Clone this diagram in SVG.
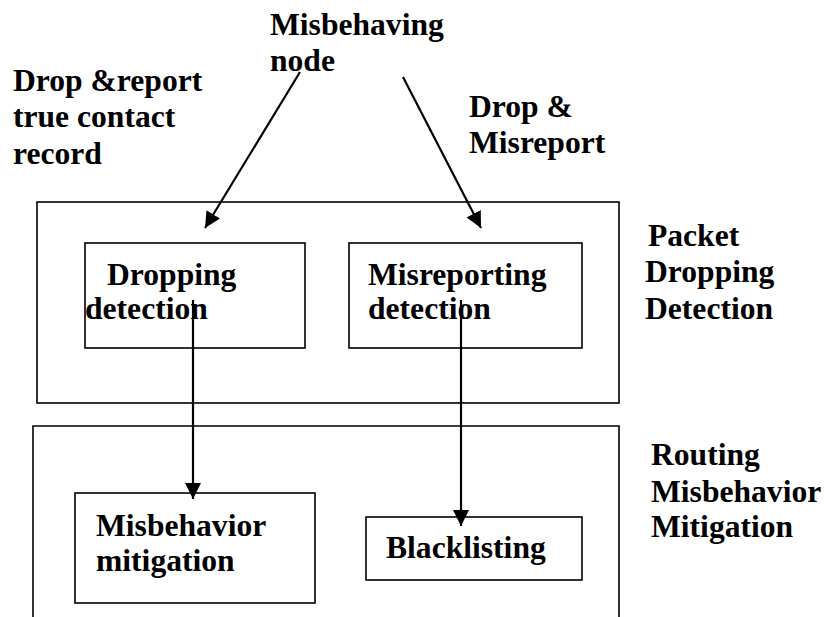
<svg xmlns="http://www.w3.org/2000/svg" width="825" height="617" viewBox="0 0 825 617">
<defs>
<style>
.b{fill:none;stroke:#000;stroke-width:1.6}
.c{fill:none;stroke:#000;stroke-width:2.2}
</style>
<marker id="ahb" viewBox="0 0 10 10" refX="10" refY="5" markerWidth="16" markerHeight="16" markerUnits="userSpaceOnUse" orient="auto">
<path d="M0,0 L10,5 L0,10 z" fill="#000"/>
</marker>
</defs>
<rect width="825" height="617" fill="#fff"/>
<g font-family="Liberation Serif, Times New Roman, serif" font-weight="bold" font-size="31.6" fill="#000">
<g id="labels">
<text x="270" y="35">Misbehaving</text>
<text x="270" y="71">node</text>
<text x="13" y="91">Drop &amp;report</text>
<text x="13" y="127">true contact</text>
<text x="13" y="164">record</text>
<text x="469" y="117">Drop &amp;</text>
<text x="469" y="153">Misreport</text>
</g>
<g id="packet-dropping-detection">
<rect class="b" x="37" y="202" width="582" height="201"/>
<text x="648" y="246">Packet</text>
<text x="645" y="282">Dropping</text>
<text x="645" y="319">Detection</text>
</g>
<g id="routing-misbehavior-mitigation">
<path class="b" d="M33,620 V426 H619 V620"/>
<text x="651" y="465">Routing</text>
<text x="651" y="502">Misbehavior</text>
<text x="651" y="537">Mitigation</text>
</g>
<g id="dropping-detection">
<rect class="b" x="85" y="243" width="220" height="105"/>
<text x="107" y="285">Dropping</text>
<text x="85" y="319">detection</text>
</g>
<g id="misreporting-detection">
<rect class="b" x="349" y="243" width="233" height="105"/>
<text x="368" y="285">Misreporting</text>
<text x="368" y="319">detection</text>
</g>
<g id="misbehavior-mitigation">
<rect class="b" x="75" y="493" width="240" height="110"/>
<text x="96" y="536">Misbehavior</text>
<text x="96" y="571">mitigation</text>
</g>
<g id="blacklisting">
<rect class="b" x="366" y="517" width="216" height="63"/>
<text x="386" y="558">Blacklisting</text>
</g>
</g>
<g id="connectors">
<line class="c" x1="300" y1="72" x2="205" y2="228" marker-end="url(#ahb)"/>
<line class="c" x1="403" y1="77" x2="481" y2="228" marker-end="url(#ahb)"/>
<line class="c" x1="193" y1="300" x2="193" y2="499" marker-end="url(#ahb)"/>
<line class="c" x1="461" y1="300" x2="461" y2="526" marker-end="url(#ahb)"/>
</g>
</svg>
